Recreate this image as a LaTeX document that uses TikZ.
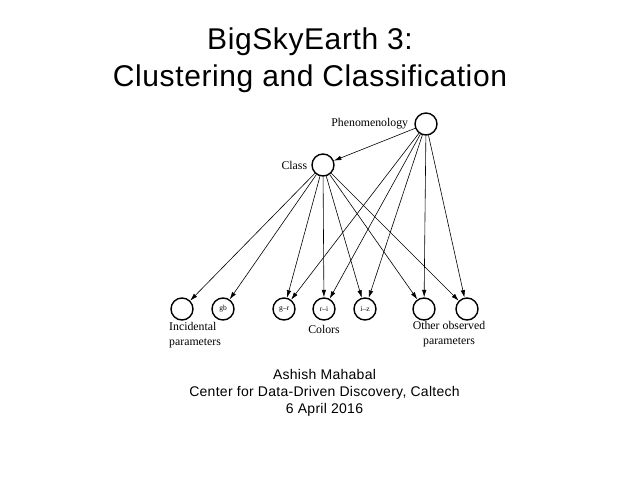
\documentclass[tikz,border=0pt]{standalone}
\usepackage{fontspec}
\setmainfont{Liberation Serif}
\setsansfont{Liberation Sans}
\newfontfamily\titlefont[LetterSpace=2]{Liberation Sans}
\usetikzlibrary{arrows.meta}

\tikzset{
    vert/.style={circle,draw,line width=1.4pt,minimum size=22pt,inner sep=0pt,
        font=\fontsize{7.5}{8}\selectfont},
    edge/.style={line width=0.6pt,-{Latex[length=7.5pt,width=4.5pt]}},
    lab/.style={font=\fontsize{11.8}{15}\selectfont,inner sep=0pt}
}

\begin{document}
\begin{tikzpicture}[x=1pt,y=-1pt]
    \useasboundingbox (0,0) rectangle (640,480);
    \node[anchor=base,font=\titlefont\fontsize{30}{37}\selectfont] (title1) at (310,49) {BigSkyEarth 3:};
    \node[anchor=base,font=\titlefont\fontsize{30}{37}\selectfont] (title2) at (310,86) {Clustering and Classification};
    \node[vert,label={[lab,label distance=6pt]left:Phenomenology}] (P) at (426,124) {};
    \node[vert,label={[lab,label distance=4pt]left:Class}] (C) at (323,165) {};
    \node[vert] (a1) at (182,309) {};
    \node[vert] (gb) at (223,309) {gb};
    \node[vert] (gr) at (284,309) {g--r};
    \node[vert] (ri) at (324,309) {r--i};
    \node[vert] (iz) at (365,309) {i--z};
    \node[vert] (o1) at (424,309) {};
    \node[vert] (o2) at (467,309) {};
    \draw[edge] (P) -- (C);
    \foreach \t in {a1,gb,gr,ri,iz,o1,o2}
        \draw[edge] (C) -- (\t);
    \foreach \t in {gr,ri,iz,o1,o2}
        \draw[edge] (P) -- (\t);
    \node[lab,anchor=north west,align=left] (inc) at (169,322) {Incidental\\parameters};
    \node[lab,anchor=north] (col) at (324,325) {Colors};
    \node[lab,anchor=north,align=center] (oth) at (449,321) {Other observed\\parameters};
    \node[anchor=base,font=\titlefont\fontsize{14}{17}\selectfont] (auth) at (324.5,379) {Ashish Mahabal};
    \node[anchor=base,font=\titlefont\fontsize{14}{17}\selectfont] (inst) at (324.5,396) {Center for Data-Driven Discovery, Caltech};
    \node[anchor=base,font=\titlefont\fontsize{14}{17}\selectfont] (date) at (324.5,413) {6 April 2016};
\end{tikzpicture}
\end{document}
